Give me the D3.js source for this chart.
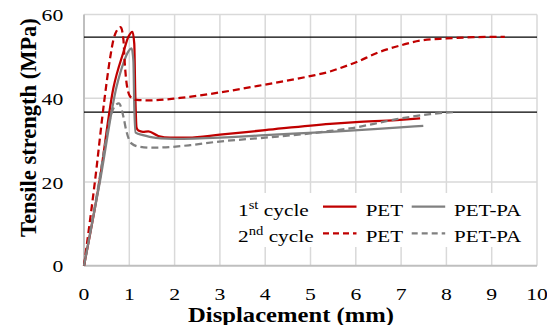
<!DOCTYPE html>
<html>
<head>
<meta charset="utf-8">
<script src="https://cdn.jsdelivr.net/npm/d3@7"></script>
<style>
  body { margin: 0; background: #fff; }
  text { font-family: "Liberation Serif", "Times New Roman", serif; fill: #000; }
</style>
</head>
<body>
<div id="chart"></div>
<script>
// displacement (mm) / tensile strength (MPa)
const petCycle1 = [
  [0, 0], [0.34, 20], [0.65, 42.5], [0.87, 51], [0.98, 54.7], [1.07, 55.9],
  [1.11, 53], [1.13, 42], [1.16, 33], [1.2, 32.3], [1.3, 32.0], [1.42, 32.1],
  [1.64, 31.0], [1.9, 30.6], [2.3, 30.6], [3.0, 31.3], [4.0, 32.4],
  [5.43, 33.9], [6.0, 34.3], [6.9, 34.8], [7.42, 35.2]
];
const petpaCycle1 = [
  [0, 0], [0.35, 20], [0.72, 42.8], [0.87, 48.4], [0.98, 51.2], [1.05, 51.9],
  [1.09, 49], [1.11, 38], [1.14, 31.8], [1.3, 31.2], [1.45, 30.8],
  [1.7, 30.4], [2.0, 30.3], [3.0, 30.6], [4.0, 31.2], [5.43, 32.0],
  [6.9, 33.0], [7.49, 33.4]
];
const petCycle2 = [
  [0, 0], [0.24, 20], [0.45, 39.6], [0.57, 49.2], [0.65, 54], [0.73, 56.3],
  [0.81, 57], [0.87, 54], [0.9, 48.4], [0.94, 43.6], [1.02, 40.4],
  [1.16, 39.6], [1.46, 39.5], [2.12, 40.1], [3.0, 41.4], [3.96, 43.2],
  [4.99, 45.3], [5.43, 46.4], [5.65, 47.2], [5.98, 48.5], [6.53, 51.1],
  [7.01, 52.7], [7.42, 53.8], [8.0, 54.3], [8.6, 54.6], [9.29, 54.7]
];
const petpaCycle2 = [
  [0, 0], [0.3, 18], [0.5, 31], [0.57, 35], [0.65, 37.6], [0.77, 38.8],
  [0.87, 35.6], [0.93, 32.4], [1.05, 29.2], [1.24, 28.4], [1.53, 28.2],
  [2.34, 28.8], [2.93, 29.6], [4.0, 30.6], [4.99, 31.6], [5.43, 32.2],
  [5.87, 32.8], [6.4, 33.9], [6.9, 35.0], [7.64, 36.2], [8.23, 36.8]
];
// horizontal black reference lines
const refLines = [54.6, 36.7];

const xTicks = [0, 1, 2, 3, 4, 5, 6, 7, 8, 9, 10];
const yTicks = [0, 20, 40, 60];

const series = [
  { name: "PET", cycle: 1, data: petCycle1, color: "#C00000", dash: null },
  { name: "PET-PA", cycle: 1, data: petpaCycle1, color: "#808080", dash: null },
  { name: "PET", cycle: 2, data: petCycle2, color: "#C00000", dash: "7,4" },
  { name: "PET-PA", cycle: 2, data: petpaCycle2, color: "#808080", dash: "7,4" }
];

const W = 547, H = 325;
const margin = { top: 14.6, right: 10, bottom: 59.3, left: 84 };
const width = W - margin.left - margin.right,
  height = H - margin.top - margin.bottom;

const svg = d3.select("#chart")
  .append("svg")
  .attr("width", W)
  .attr("height", H);

const g = svg.append("g")
  .attr("transform", "translate(" + margin.left + "," + margin.top + ")");

const x = d3.scaleLinear().domain([0, 10]).range([0, width]);
const y = d3.scaleLinear().domain([0, 60]).range([height, 0]);

// gridlines
g.selectAll(".vgrid")
  .data(xTicks.filter((d) => d > 0))
  .join("line")
  .attr("x1", (d) => x(d)).attr("x2", (d) => x(d))
  .attr("y1", 0).attr("y2", height)
  .attr("stroke", "#D9D9D9")
  .attr("stroke-width", 1.5);

g.selectAll(".hgrid")
  .data(yTicks.filter((d) => d > 0))
  .join("line")
  .attr("x1", 0).attr("x2", width)
  .attr("y1", (d) => y(d)).attr("y2", (d) => y(d))
  .attr("stroke", "#D9D9D9")
  .attr("stroke-width", 1.5);

// axis lines
g.append("line")
  .attr("x1", 0).attr("x2", width)
  .attr("y1", y(0)).attr("y2", y(0))
  .attr("stroke", "#BFBFBF").attr("stroke-width", 2);
g.append("line")
  .attr("x1", x(0)).attr("x2", x(0))
  .attr("y1", 0).attr("y2", height)
  .attr("stroke", "#BFBFBF").attr("stroke-width", 2);

// reference lines
g.selectAll(".ref")
  .data(refLines)
  .join("line")
  .attr("x1", 0).attr("x2", width)
  .attr("y1", (d) => y(d)).attr("y2", (d) => y(d))
  .attr("stroke", "#000")
  .attr("stroke-width", 1.3);

// tick labels (the picture is a bit wider than tall, so stretch text in x)
const sx = 1.24;
g.selectAll(".xlab")
  .data(xTicks)
  .join("text")
  .attr("transform", (d) => "translate(" + x(d) + "," + (height + 34) + ") scale(" + sx + ",1)")
  .attr("text-anchor", "middle")
  .attr("font-size", 17.5)
  .text((d) => d);

g.selectAll(".ylab")
  .data(yTicks)
  .join("text")
  .attr("transform", (d) => "translate(" + (-20.7) + "," + (y(d) + 6.5) + ") scale(" + sx + ",1)")
  .attr("text-anchor", "end")
  .attr("font-size", 17.5)
  .text((d) => d);

// axis titles
svg.append("text")
  .attr("transform", "translate(291,321.5) scale(1.12,1)")
  .attr("text-anchor", "middle")
  .attr("font-size", 22)
  .attr("font-weight", "bold")
  .text("Displacement (mm)");

svg.append("text")
  .attr("transform", "translate(36,127.5) rotate(-90)")
  .attr("text-anchor", "middle")
  .attr("font-size", 22.5)
  .attr("font-weight", "bold")
  .text("Tensile strength (MPa)");

// curves
const line = d3.line()
  .x((d) => x(d[0]))
  .y((d) => y(d[1]))
  .curve(d3.curveMonotoneX);

g.selectAll(".curve")
  .data(series)
  .join("path")
  .attr("d", (d) => line(d.data))
  .attr("fill", "none")
  .attr("stroke", (d) => d.color)
  .attr("stroke-width", 2.25)
  .attr("stroke-dasharray", (d) => d.dash)
  .attr("stroke-linejoin", "round");

// legend
const legend = svg.append("g");
legend.append("rect")
  .attr("x", 222).attr("y", 193)
  .attr("width", 314).attr("height", 54)
  .attr("fill", "#fff");

const rows = [
  { cycle: 1, num: "1", sup: "st", ly: 206.7, ty: 215.5 },
  { cycle: 2, num: "2", sup: "nd", ly: 233.3, ty: 241.5 }
];

rows.forEach(function (r) {
  const t = legend.append("text")
    .attr("transform", "translate(238," + r.ty + ") scale(1.22,1)")
    .attr("font-size", 17.5);
  t.append("tspan").text(r.num);
  t.append("tspan").attr("font-size", 12).attr("dy", -7).text(r.sup);
  t.append("tspan").attr("dy", 7).text(" cycle");

  const items = series.filter((s) => s.cycle === r.cycle);
  items.forEach(function (s, i) {
    const x0 = i === 0 ? 323 : 411.7;
    legend.append("line")
      .attr("x1", x0).attr("x2", x0 + 33.5)
      .attr("y1", r.ly).attr("y2", r.ly)
      .attr("stroke", s.color)
      .attr("stroke-width", 2.25)
      .attr("stroke-dasharray", s.dash ? "6,4" : null);
    legend.append("text")
      .attr("transform", "translate(" + (i === 0 ? 365.7 : 454) + "," + r.ty + ") scale(1.2,1)")
      .attr("font-size", 17.5)
      .text(s.name);
  });
});
</script>
</body>
</html>
